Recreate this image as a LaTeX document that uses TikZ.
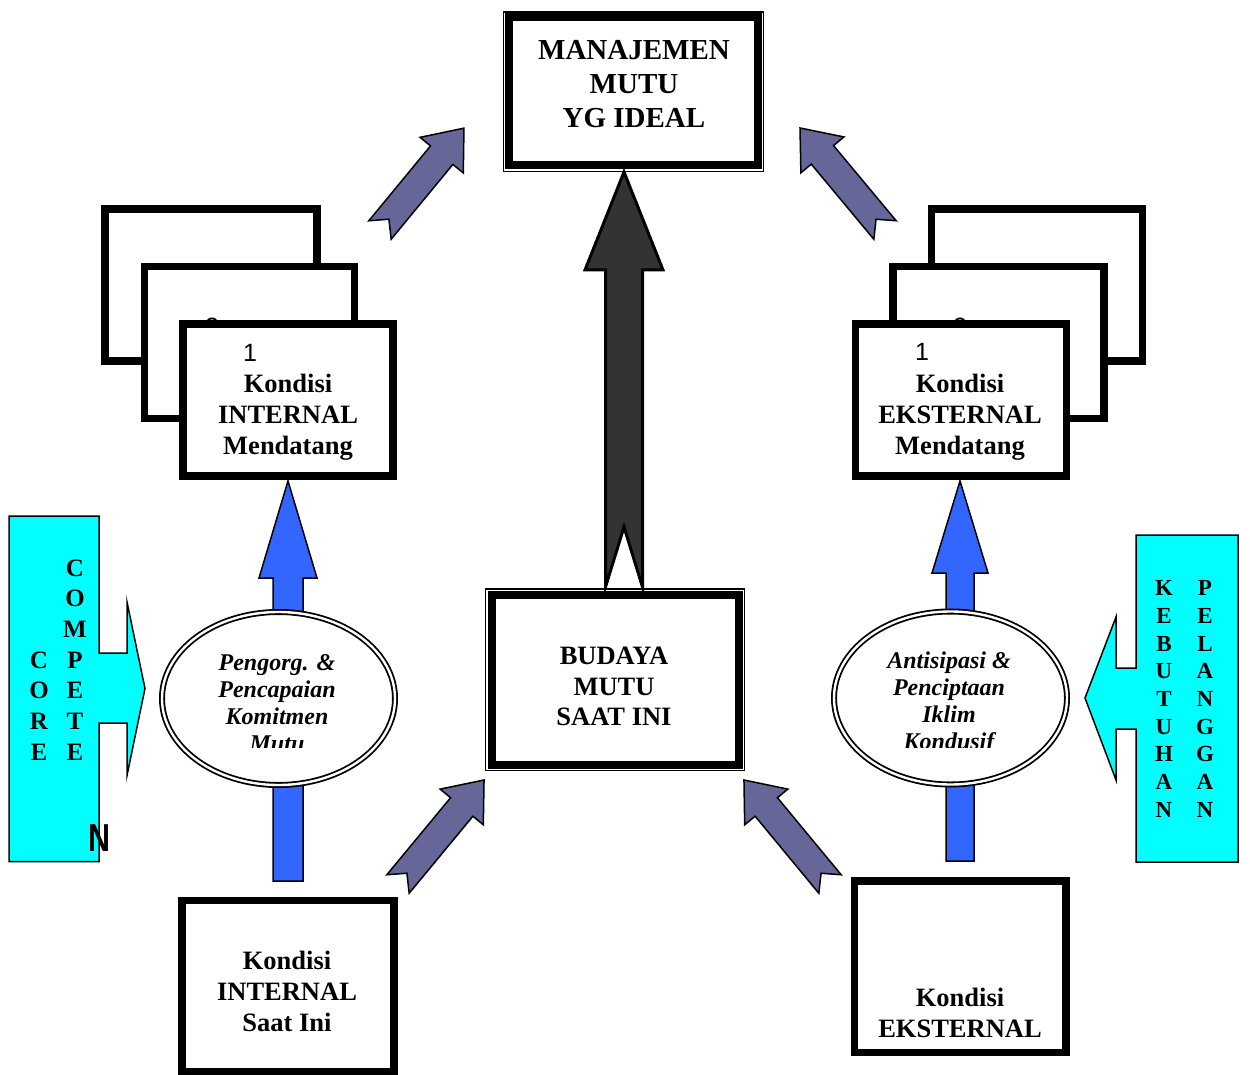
\documentclass[tikz,border=0pt]{standalone}
\usepackage{fontspec}
\setmainfont{Liberation Serif}
\newfontfamily\arialfont{Liberation Sans}
\usetikzlibrary{shapes.geometric}
\definecolor{slate}{HTML}{666699}
\definecolor{vivblue}{HTML}{3366FF}
\definecolor{darkarrow}{HTML}{333333}
\definecolor{cyanfill}{HTML}{00FFFF}
% #1 style, #2 tail coordinate, #3 angle, #4 length, #5 head length, #6 head half width, #7 shaft half width, #8 notch depth
\newcommand\blockarrow[8]{%
  \draw[#1, shift={(#2)}, rotate=#3] (0,#7) -- ({#4-#5},#7) -- ({#4-#5},#6) -- (#4,0)
    -- ({#4-#5},-#6) -- ({#4-#5},-#7) -- (0,-#7) -- (#8,0) -- cycle;}
\begin{document}
\begin{tikzpicture}[x=1pt,y=-1pt,
  heavybox/.style={draw=black, line width=7.5pt, fill=white, inner sep=0pt, outer sep=0pt},
  thinframe/.style={draw=black, line width=1.5pt, fill=white, inner sep=0pt, outer sep=0pt},
  boxtext/.style={font=\bfseries\fontsize{26.5}{31}\selectfont, align=center, inner sep=0pt},
  titletext/.style={font=\bfseries\fontsize{29}{34}\selectfont, align=center, inner sep=0pt},
  ovaltext/.style={font=\bfseries\itshape\fontsize{24}{27}\selectfont, align=center, inner sep=0pt},
  numtext/.style={font=\arialfont\fontsize{25}{25}\selectfont, inner sep=0pt},
  slantarrow/.style={fill=slate, draw=black, line width=1.5pt, line join=miter},
  bluearrow/.style={fill=vivblue, draw=black, line width=1.5pt, line join=miter},
  bigarrow/.style={fill=darkarrow, draw=black, line width=3pt, line join=miter},
  oval/.style={ellipse, draw=black, fill=white, double=white, double distance=2.4pt, line width=1.8pt, inner sep=0pt, minimum width=233pt, minimum height=173pt},
  cyanshape/.style={fill=cyanfill, draw=black, line width=1.5pt, line join=miter},
  colletterA/.style={font=\bfseries\fontsize{25}{30.67}\selectfont, align=center, inner sep=0pt},
  colletterB/.style={font=\bfseries\fontsize{23}{27.7}\selectfont, align=center, inner sep=0pt},
]
\useasboundingbox (0,0) rectangle (1250,1075);

% ---------- left stack ----------
\node[heavybox, minimum width=212pt, minimum height=152pt] (lback) at (211,285) {};
\node[heavybox, minimum width=210pt, minimum height=152pt] (lmid) at (249.5,342.5) {};
\node[numtext] (ltwo) at (212,327) {2};
\node[heavybox, minimum width=210pt, minimum height=152pt] (lfront) at (288,400) {};
\node[numtext] (lone) at (250,353) {1};
\node[boxtext] (ltext) at (288,417) {Kondisi\\INTERNAL\\Mendatang};

% ---------- right stack ----------
\node[heavybox, minimum width=211pt, minimum height=152pt] (rback) at (1037,285) {};
\node[heavybox, minimum width=211pt, minimum height=152pt] (rmid) at (998.5,342.5) {};
\node[numtext] (rtwo) at (960,327) {2};
\node[heavybox, minimum width=211pt, minimum height=152pt] (rfront) at (961,400) {};
\node[numtext] (rone) at (922,352) {1};
\node[boxtext] (rtext) at (960,417) {Kondisi\\EKSTERNAL\\Mendatang};

% ---------- top box ----------
\node[thinframe, minimum width=260pt, minimum height=159.5pt] (topouter) at (633.5,91.75) {};
\node[heavybox, line width=8pt, minimum width=248.5pt, minimum height=148pt] (topinner) at (633.25,91.5) {};
\node[titletext] (toptext) at (634,84) {MANAJEMEN\\MUTU\\YG IDEAL};

% ---------- centre box ----------
\node[thinframe, minimum width=259pt, minimum height=181.5pt] (midouter) at (615,679.75) {};
\node[heavybox, line width=8pt, minimum width=247pt, minimum height=169.5pt] (midinner) at (615,679.75) {};
\node[boxtext, font=\bfseries\fontsize{26.5}{30.5}\selectfont] (midtext) at (614,686.5) {BUDAYA\\MUTU\\SAAT INI};

% ---------- bottom boxes ----------
\node[heavybox, minimum width=212pt, minimum height=171.5pt] (lbottom) at (288,986.25) {};
\node[boxtext] (lbtext) at (287,991) {Kondisi\\INTERNAL\\Saat Ini};
\node[heavybox, minimum width=211.5pt, minimum height=171.5pt] (rbottom) at (960.25,966.75) {};
\node[boxtext] (rbtext) at (960,1013) {Kondisi\\EKSTERNAL};

% ---------- slanted arrows ----------
\coordinate (aonetail) at (380,230);
\coordinate (atwotail) at (885,230);
\coordinate (athreetail) at (398,884);
\coordinate (afourtail) at (830,884);
\blockarrow{slantarrow}{aonetail}{50.5}{132}{35}{28}{14.5}{14}
\blockarrow{slantarrow}{atwotail}{129.8}{132.8}{35}{28}{14.5}{14}
\blockarrow{slantarrow}{athreetail}{50.4}{135}{35}{28}{14.5}{14}
\blockarrow{slantarrow}{afourtail}{129.6}{135}{35}{28}{14.5}{14}

% ---------- central dark arrow ----------
\coordinate (bigtail) at (624,587);
\blockarrow{bigarrow}{bigtail}{90}{415}{98}{39}{18.5}{60}

% ---------- blue arrows ----------
\coordinate (lbluetail) at (288,881);
\coordinate (rbluetail) at (960,861);
\blockarrow{bluearrow}{lbluetail}{90}{400}{97}{29}{15}{0}
\blockarrow{bluearrow}{rbluetail}{90}{380}{92}{28}{14}{0}

% ---------- ovals ----------
\node[oval] (lefteoval) at (278.5,698.5) {};
\node[oval] (rightoval) at (950.5,698) {};
\begin{scope}
  \clip (150,600) rectangle (1080,747.5);
  \node[ovaltext] (lovaltext) at (277,703) {Pengorg. \&\\Pencapaian\\Komitmen\\Mutu};
  \node[ovaltext] (rovaltext) at (949,703) {Antisipasi \&\\Penciptaan\\Iklim\\Kondusif};
\end{scope}

% ---------- cyan shapes ----------
\draw[cyanshape] (9,516) -- (99,516) -- (99,653) -- (127,653) -- (127,602) -- (145,688.5)
  -- (127,775.5) -- (127,723) -- (99,723) -- (99,861.5) -- (9,861.5) -- cycle;
\node[colletterA] (compete) at (75,660) {C\\O\\M\\P\\E\\T\\E};
\node[colletterA] (core) at (39,706) {C\\O\\R\\E};
\node[inner sep=0pt, font=\arialfont\bfseries\fontsize{39}{39}\selectfont, xscale=0.78] (lastn) at (99,838) {N};

\draw[cyanshape] (1238,535) -- (1136,535) -- (1136,668) -- (1116,668) -- (1116,617) -- (1085,698)
  -- (1116,780) -- (1116,729) -- (1136,729) -- (1136,862) -- (1238,862) -- cycle;
\node[colletterB] (kebutuhan) at (1164,699) {K\\E\\B\\U\\T\\U\\H\\A\\N};
\node[colletterB] (pelanggan) at (1205,699) {P\\E\\L\\A\\N\\G\\G\\A\\N};
\end{tikzpicture}
\end{document}
